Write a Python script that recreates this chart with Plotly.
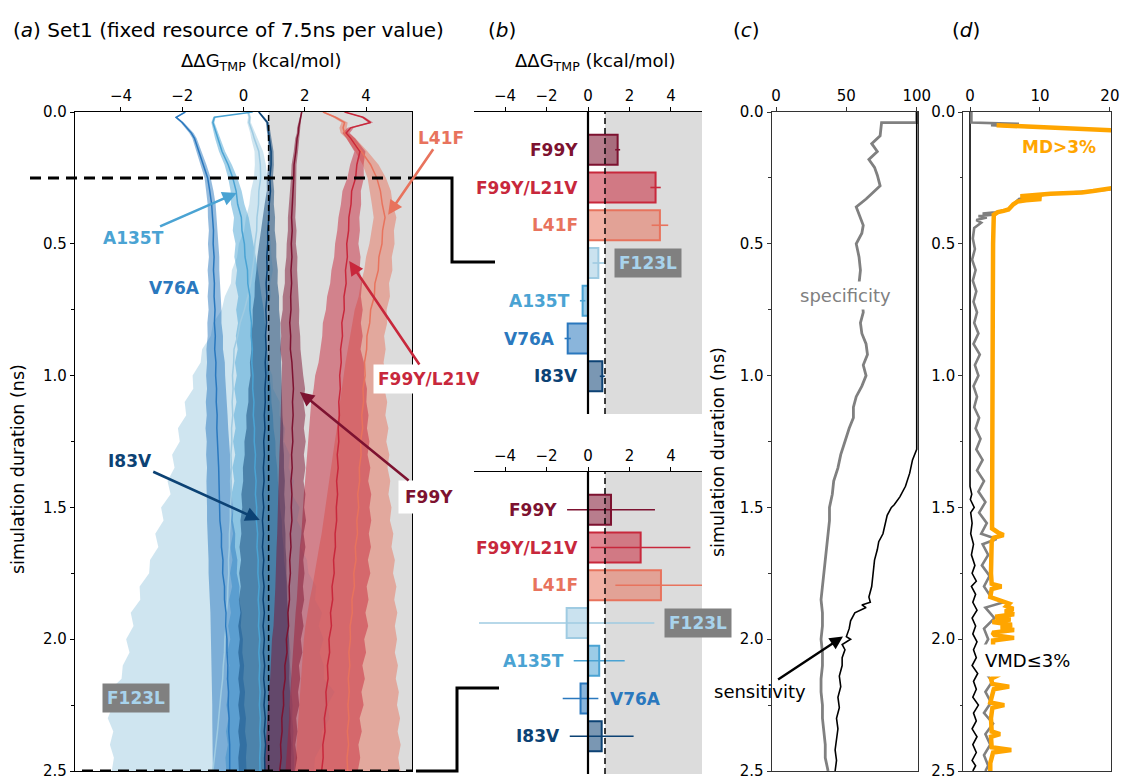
import plotly.graph_objects as go

W, H = 1122, 778
FONT = "DejaVu Sans, Liberation Sans, Arial, sans-serif"

# ---------------- panel (a) data: running estimate vs simulation duration ----------------
T = [0, 0.02, 0.04, 0.06, 0.08, 0.1, 0.15, 0.2, 0.25, 0.3,
     0.35, 0.4, 0.45, 0.5, 0.55, 0.6, 0.65, 0.7, 0.75, 0.8,
     0.85, 0.9, 0.95, 1.0, 1.05, 1.1, 1.15, 1.2, 1.25, 1.3,
     1.35, 1.4, 1.45, 1.5, 1.55, 1.6, 1.65, 1.7, 1.75, 1.8,
     1.85, 1.9, 1.95, 2.0, 2.05, 2.1, 2.15, 2.2, 2.25, 2.3,
     2.35, 2.4, 2.45, 2.5]

F99Y_MEAN = [1.9, 1.86, 1.83, 1.8, 1.79, 1.75, 1.71, 1.65, 1.64, 1.61,
             1.6, 1.57, 1.59, 1.56, 1.58, 1.55, 1.57, 1.54, 1.55, 1.51,
             1.54, 1.53, 1.58, 1.6, 1.63, 1.6, 1.62, 1.59, 1.61, 1.57,
             1.59, 1.55, 1.58, 1.56, 1.58, 1.53, 1.55, 1.51, 1.53, 1.49,
             1.5, 1.45, 1.47, 1.4, 1.42, 1.35, 1.36, 1.3, 1.31, 1.25,
             1.26, 1.21, 1.23, 1.18]
F99Y_HW = [0.02, 0.03, 0.04, 0.05, 0.05, 0.06, 0.07, 0.08, 0.09, 0.1,
           0.11, 0.12, 0.14, 0.15, 0.18, 0.2, 0.22, 0.26, 0.27, 0.3,
           0.31, 0.33, 0.32, 0.35, 0.38, 0.36, 0.4, 0.38, 0.42, 0.4,
           0.43, 0.41, 0.44, 0.42, 0.46, 0.43, 0.47, 0.44, 0.46, 0.45,
           0.48, 0.45, 0.49, 0.47, 0.5, 0.46, 0.49, 0.48, 0.51, 0.47,
           0.5, 0.48, 0.52, 0.5]

F99Y_L21V_MEAN = [3.3, 3.9, 4.15, 3.5, 3.35, 3.5, 3.8, 3.7, 3.66, 3.53,
                  3.51, 3.44, 3.43, 3.37, 3.39, 3.33, 3.35, 3.28, 3.29, 3.21,
                  3.23, 3.17, 3.19, 3.14, 3.16, 3.11, 3.13, 3.09, 3.11, 3.06,
                  3.09, 3.04, 3.07, 3.03, 3.04, 2.99, 3.0, 2.94, 2.96, 2.89,
                  2.91, 2.84, 2.87, 2.79, 2.81, 2.74, 2.76, 2.69, 2.71, 2.64,
                  2.66, 2.59, 2.6, 2.55]
F99Y_L21V_HW = [0.04, 0.06, 0.08, 0.1, 0.12, 0.14, 0.18, 0.22, 0.27, 0.3,
                0.33, 0.34, 0.37, 0.38, 0.43, 0.46, 0.52, 0.55, 0.6, 0.62,
                0.66, 0.65, 0.74, 0.8, 0.87, 0.9, 0.95, 0.94, 1.0, 0.99,
                1.05, 1.03, 1.1, 1.08, 1.13, 1.1, 1.16, 1.12, 1.18, 1.13,
                1.17, 1.14, 1.2, 1.15, 1.19, 1.14, 1.2, 1.16, 1.21, 1.15,
                1.2, 1.16, 1.21, 1.18]

L41F_MEAN = [2.6, 3.0, 3.3, 3.25, 3.3, 3.5, 3.85, 4.15, 4.35, 4.47,
             4.53, 4.62, 4.54, 4.52, 4.42, 4.4, 4.29, 4.27, 4.15, 4.12,
             4.03, 4.02, 3.95, 3.97, 3.9, 3.92, 3.86, 3.89, 3.82, 3.84,
             3.78, 3.79, 3.73, 3.76, 3.7, 3.72, 3.65, 3.67, 3.6, 3.62,
             3.54, 3.55, 3.48, 3.49, 3.44, 3.47, 3.42, 3.45, 3.41, 3.44,
             3.39, 3.43, 3.38, 3.4]
L41F_HW = [0.05, 0.08, 0.1, 0.12, 0.13, 0.15, 0.2, 0.26, 0.3, 0.34,
           0.34, 0.37, 0.37, 0.41, 0.42, 0.46, 0.46, 0.51, 0.52, 0.57,
           0.56, 0.62, 0.62, 0.7, 0.7, 0.77, 0.77, 0.84, 0.84, 0.92,
           0.92, 1.0, 1.0, 1.07, 1.08, 1.17, 1.18, 1.27, 1.28, 1.37,
           1.38, 1.47, 1.46, 1.52, 1.5, 1.57, 1.55, 1.62, 1.6, 1.67,
           1.64, 1.7, 1.67, 1.72]

F123L_MEAN = [0.15, 0.2, 0.18, 0.25, 0.3, 0.35, 0.5, 0.55, 0.56, 0.5,
              0.49, 0.44, 0.43, 0.37, 0.35, 0.29, 0.23, 0.14, 0.03, -0.11,
              -0.19, -0.31, -0.32, -0.36, -0.34, -0.37, -0.35, -0.39, -0.38, -0.41,
              -0.39, -0.42, -0.4, -0.43, -0.43, -0.46, -0.46, -0.49, -0.48, -0.51,
              -0.52, -0.56, -0.57, -0.61, -0.62, -0.66, -0.68, -0.73, -0.76, -0.81,
              -0.85, -0.9, -0.95, -1.0]
F123L_HW = [0.04, 0.05, 0.06, 0.07, 0.08, 0.1, 0.14, 0.18, 0.22, 0.26,
            0.3, 0.36, 0.41, 0.52, 0.56, 0.67, 0.64, 0.75, 0.74, 0.88,
            0.88, 1.04, 1.08, 1.3, 1.3, 1.55, 1.52, 1.75, 1.7, 1.92,
            1.86, 2.06, 1.98, 2.26, 2.18, 2.42, 2.32, 2.56, 2.6, 2.88,
            2.85, 3.12, 3.02, 3.22, 3.1, 3.28, 3.3, 3.7, 3.5, 3.62,
            3.4, 3.46, 3.28, 3.3]

A135T_MEAN = [0.3, -0.95, -1.0, -0.95, -0.9, -0.85, -0.7, -0.5, -0.35, -0.24,
              -0.19, -0.07, -0.05, 0.03, 0.05, 0.13, 0.14, 0.21, 0.21, 0.26,
              0.25, 0.29, 0.27, 0.31, 0.3, 0.34, 0.32, 0.36, 0.35, 0.39,
              0.37, 0.41, 0.39, 0.43, 0.42, 0.46, 0.44, 0.48, 0.47, 0.51,
              0.48, 0.51, 0.49, 0.53, 0.5, 0.53, 0.51, 0.54, 0.52, 0.55,
              0.53, 0.55, 0.53, 0.54]
A135T_HW = [0.03, 0.04, 0.05, 0.06, 0.07, 0.08, 0.1, 0.12, 0.15, 0.18,
            0.22, 0.24, 0.3, 0.29, 0.35, 0.34, 0.4, 0.38, 0.45, 0.44,
            0.5, 0.48, 0.55, 0.53, 0.6, 0.57, 0.64, 0.62, 0.69, 0.66,
            0.73, 0.71, 0.78, 0.76, 0.83, 0.8, 0.87, 0.84, 0.91, 0.88,
            0.95, 0.92, 0.99, 0.96, 1.03, 0.99, 1.06, 1.02, 1.08, 1.04,
            1.1, 1.06, 1.12, 1.1]

V76A_MEAN = [-1.9, -2.2, -2.0, -1.85, -1.7, -1.6, -1.45, -1.3, -1.17, -1.1,
             -1.04, -1.01, -0.98, -0.99, -0.96, -0.98, -0.95, -0.96, -0.93, -0.95,
             -0.92, -0.94, -0.9, -0.91, -0.88, -0.89, -0.86, -0.87, -0.84, -0.83,
             -0.81, -0.8, -0.79, -0.76, -0.77, -0.72, -0.72, -0.67, -0.68, -0.62,
             -0.62, -0.57, -0.58, -0.54, -0.54, -0.51, -0.52, -0.49, -0.5, -0.47,
             -0.48, -0.45, -0.46, -0.45]
V76A_HW = [0.03, 0.04, 0.05, 0.06, 0.07, 0.07, 0.08, 0.09, 0.1, 0.12,
           0.13, 0.15, 0.15, 0.17, 0.17, 0.19, 0.19, 0.21, 0.21, 0.23,
           0.25, 0.27, 0.29, 0.31, 0.31, 0.34, 0.34, 0.37, 0.36, 0.39,
           0.38, 0.41, 0.4, 0.43, 0.42, 0.45, 0.44, 0.47, 0.46, 0.49,
           0.48, 0.51, 0.49, 0.52, 0.5, 0.53, 0.51, 0.54, 0.52, 0.55,
           0.53, 0.56, 0.54, 0.55]

I83V_MEAN = [0.5, 0.65, 0.78, 0.8, 0.82, 0.85, 0.9, 0.9, 0.86, 0.88,
             0.84, 0.83, 0.79, 0.79, 0.76, 0.77, 0.74, 0.76, 0.73, 0.75,
             0.72, 0.74, 0.71, 0.73, 0.7, 0.71, 0.68, 0.7, 0.66, 0.68,
             0.65, 0.67, 0.63, 0.66, 0.62, 0.65, 0.62, 0.66, 0.63, 0.67,
             0.64, 0.68, 0.64, 0.68, 0.65, 0.69, 0.66, 0.7, 0.67, 0.71,
             0.68, 0.72, 0.69, 0.7]
I83V_HW = [0.03, 0.04, 0.05, 0.05, 0.06, 0.06, 0.08, 0.09, 0.1, 0.12,
           0.15, 0.2, 0.23, 0.28, 0.31, 0.35, 0.37, 0.4, 0.43, 0.45,
           0.47, 0.48, 0.5, 0.5, 0.54, 0.55, 0.59, 0.6, 0.63, 0.64,
           0.67, 0.68, 0.7, 0.7, 0.72, 0.72, 0.75, 0.74, 0.77, 0.76,
           0.79, 0.78, 0.81, 0.8, 0.82, 0.81, 0.83, 0.82, 0.84, 0.83,
           0.85, 0.84, 0.86, 0.85]

# ---------------- panel (b) data ----------------
CATEGORIES = ["F99Y", "F99Y/L21V", "L41F", "F123L", "A135T", "V76A", "I83V"]
COLORS = ["#7d1230", "#c8283c", "#e8735d", "#9fcbe2", "#4aa3d3", "#2a78be", "#0c4274"]
TOP_VAL = [1.43, 3.26, 3.47, 0.5, -0.26, -0.98, 0.69]     # at 0.25 ns
TOP_ERR = [0.12, 0.25, 0.4, 0.28, 0.13, 0.15, 0.12]
BOT_VAL = [1.11, 2.54, 3.52, -1.03, 0.54, -0.36, 0.66]    # at 2.5 ns
BOT_ERR = [2.12, 2.4, 2.2, 4.23, 1.23, 0.86, 1.54]

THRESH = 0.82
SNAP_TOP = 0.25
SNAP_BOT = 2.5

# ---------------- panel (c) data ----------------
SPEC_POINTS = [(0, 100), (0.04, 100), (0.04, 75), (0.09, 74), (0.12, 68), (0.15, 72), (0.18, 66), (0.21, 70),
               (0.24, 72), (0.28, 74), (0.31, 68), (0.33, 64), (0.36, 57), (0.4, 60), (0.43, 62), (0.46, 61),
               (0.5, 57), (0.55, 59), (0.6, 60), (0.65, 59), (0.7, 61), (0.76, 62), (0.8, 60), (0.84, 61),
               (0.88, 64), (0.92, 65), (0.96, 62), (1.0, 64), (1.04, 61), (1.08, 57), (1.12, 55), (1.16, 55),
               (1.2, 52), (1.25, 49), (1.3, 46), (1.35, 44), (1.4, 41), (1.45, 40), (1.5, 38), (1.55, 38),
               (1.6, 37), (1.65, 36), (1.7, 35), (1.75, 34), (1.8, 33), (1.85, 32), (1.9, 33), (1.95, 33),
               (2.0, 32), (2.05, 33), (2.1, 33), (2.15, 32), (2.2, 32), (2.25, 33), (2.3, 33), (2.35, 34),
               (2.4, 35), (2.45, 35), (2.5, 37)]
SENS_POINTS = [(0, 100), (1.28, 100), (1.32, 97), (1.37, 95), (1.42, 92), (1.46, 88), (1.49, 84), (1.5, 82),
               (1.53, 79), (1.57, 77), (1.6, 76), (1.63, 73), (1.66, 72), (1.7, 70), (1.75, 69), (1.8, 68),
               (1.84, 66), (1.86, 67), (1.87, 61), (1.88, 64), (1.9, 56), (1.93, 53), (1.96, 52), (1.99, 50),
               (2.0, 53), (2.02, 47), (2.04, 49), (2.07, 47), (2.1, 47), (2.14, 45), (2.18, 46), (2.22, 44),
               (2.26, 45), (2.3, 43), (2.34, 44), (2.38, 43), (2.42, 42), (2.46, 43), (2.5, 42)]

# ---------------- panel (d) data ----------------
MD_POINTS = [(0.05, 3.8), (0.06, 12.0), (0.075, 25.0), (0.28, 25.0), (0.29, 20.0), (0.3, 17.6), (0.305, 16.0),
             (0.31, 11.5), (0.315, 9.0), (0.32, 7.2), (0.325, 9.5), (0.33, 10.2), (0.335, 8.0), (0.34, 6.8),
             (0.35, 6.2), (0.36, 5.9), (0.37, 5.5), (0.375, 4.8), (0.38, 4.0), (0.39, 3.4), (0.5, 3.3), (0.8, 3.25),
             (1.2, 3.2), (1.58, 3.15), (1.595, 4.0), (1.605, 4.8), (1.615, 3.4), (1.63, 3.1), (1.75, 3.0),
             (1.79, 3.1), (1.8, 4.5), (1.81, 3.1), (1.84, 2.9), (1.855, 4.8), (1.865, 5.6), (1.875, 5.2),
             (1.885, 6.2), (1.895, 5.0), (1.905, 6.3), (1.915, 3.6), (1.925, 5.8), (1.935, 3.2), (1.945, 6.0),
             (1.955, 4.4), (1.965, 6.3), (1.975, 3.2), (1.985, 3.5), (1.995, 6.3), (2.005, 3.3), (2.13, 3.3),
             (2.14, 3.8), (2.15, 3.0), (2.17, 3.2), (2.18, 5.6), (2.19, 3.4), (2.22, 3.1), (2.24, 2.9), (2.25, 4.9),
             (2.26, 3.2), (2.3, 3.0), (2.35, 3.1), (2.36, 4.3), (2.37, 3.0), (2.41, 3.1), (2.42, 5.9), (2.43, 3.3),
             (2.47, 2.9), (2.5, 2.9)]
ALLMD_POINTS = [(0.0, 0.2), (0.04, 0.2), (0.045, 7.0), (0.05, 3.0), (0.055, 6.5), (0.06, 12.0), (0.075, 25.0),
                (0.28, 25.0), (0.3, 17.6), (0.31, 11.5), (0.33, 7.0), (0.37, 5.5), (0.38, 3.6), (0.385, 1.8),
                (0.39, 3.2), (0.395, 1.2), (0.4, 2.4), (0.41, 0.9), (0.42, 1.6), (0.44, 0.6), (0.48, 0.4),
                (0.52, 0.7), (0.56, 0.3), (0.6, 0.8), (0.64, 0.4), (0.68, 0.9), (0.72, 0.5), (0.76, 1.0),
                (0.8, 0.6), (0.84, 1.2), (0.88, 0.5), (0.92, 1.4), (0.96, 0.7), (1.0, 1.2), (1.04, 0.5),
                (1.08, 1.0), (1.12, 0.6), (1.16, 1.3), (1.2, 0.8), (1.24, 1.5), (1.28, 0.9), (1.32, 1.8),
                (1.36, 1.0), (1.4, 2.0), (1.44, 1.2), (1.48, 2.2), (1.52, 1.3), (1.56, 2.4), (1.6, 1.6),
                (1.62, 3.8), (1.64, 1.8), (1.68, 2.6), (1.72, 1.7), (1.76, 2.8), (1.8, 2.0), (1.84, 3.0),
                (1.86, 4.8), (1.88, 2.2), (1.92, 3.5), (1.96, 2.0), (2.0, 2.6), (2.04, 1.8), (2.08, 2.8),
                (2.12, 2.0), (2.16, 3.2), (2.2, 2.2), (2.24, 3.0), (2.28, 2.0), (2.32, 3.3), (2.36, 2.2),
                (2.4, 2.9), (2.44, 2.0), (2.48, 2.6), (2.5, 2.2)]
VMD_POINTS = [(0.0, 0.0), (1.42, 0.0), (1.45, 0.25), (1.47, 0.05), (1.5, 0.6), (1.52, 0.1), (1.56, 0.3),
              (1.6, 0.1), (1.64, 0.5), (1.68, 0.2), (1.72, 0.7), (1.75, 0.3), (1.78, 0.9), (1.8, 0.2),
              (1.83, 0.8), (1.86, 0.4), (1.89, 1.0), (1.92, 0.3), (1.95, 0.8), (1.98, 0.4), (2.01, 1.0),
              (2.04, 0.5), (2.07, 0.9), (2.1, 0.3), (2.13, 1.1), (2.16, 0.5), (2.19, 0.9), (2.22, 0.4),
              (2.25, 1.2), (2.28, 0.5), (2.31, 0.9), (2.34, 0.3), (2.37, 1.0), (2.4, 0.4), (2.43, 0.9),
              (2.46, 0.3), (2.48, 0.8), (2.5, 0.4)]

SERIES_A = {
    "F99Y": (F99Y_MEAN, F99Y_HW),
    "F99Y/L21V": (F99Y_L21V_MEAN, F99Y_L21V_HW),
    "L41F": (L41F_MEAN, L41F_HW),
    "F123L": (F123L_MEAN, F123L_HW),
    "A135T": (A135T_MEAN, A135T_HW),
    "V76A": (V76A_MEAN, V76A_HW),
    "I83V": (I83V_MEAN, I83V_HW),
}
DRAW_ORDER_A = ["F123L", "A135T", "V76A", "I83V", "L41F", "F99Y/L21V", "F99Y"]
CMAP = dict(zip(CATEGORIES, COLORS))


def px(x):
    return x / W


def py(y):
    return 1 - y / H


def rgba(h, a):
    return "rgba(%d,%d,%d,%s)" % (int(h[1:3], 16), int(h[3:5], 16), int(h[5:7], 16), a)


fig = go.Figure()

# ---- panel (a) bands then lines ----
for name in DRAW_ORDER_A:
    m, w = SERIES_A[name]
    lo = [a - b for a, b in zip(m, w)]
    hi = [a + b for a, b in zip(m, w)]
    fig.add_trace(go.Scatter(x=lo + hi[::-1], y=T + T[::-1], fill="toself", mode="lines",
                             fillcolor=rgba(CMAP[name], 0.5), line=dict(width=0),
                             xaxis="x", yaxis="y", hoverinfo="skip", showlegend=False))
for name in DRAW_ORDER_A:
    m, w = SERIES_A[name]
    fig.add_trace(go.Scatter(x=m, y=T, mode="lines", line=dict(color=CMAP[name], width=1.5),
                             xaxis="x", yaxis="y", hoverinfo="skip", showlegend=False))

# ---- panel (b) bars ----
for vals, errs, xa, ya in [(TOP_VAL, TOP_ERR, "x2", "y2"), (BOT_VAL, BOT_ERR, "x3", "y3")]:
    for i, name in enumerate(CATEGORIES):
        c = COLORS[i]
        fig.add_trace(go.Bar(x=[vals[i]], y=[name], orientation="h", width=0.8,
                             marker=dict(color=rgba(c, 0.55), line=dict(color=c, width=2)),
                             error_x=dict(type="data", array=[errs[i]], color=c, thickness=1.6, width=0),
                             xaxis=xa, yaxis=ya, hoverinfo="skip", showlegend=False))

# ---- panel (c) ----
fig.add_trace(go.Scatter(x=[p[1] for p in SPEC_POINTS], y=[p[0] for p in SPEC_POINTS], mode="lines",
                         line=dict(color="#808080", width=2.8), xaxis="x4", yaxis="y4",
                         hoverinfo="skip", showlegend=False))
fig.add_trace(go.Scatter(x=[p[1] for p in SENS_POINTS], y=[p[0] for p in SENS_POINTS], mode="lines",
                         line=dict(color="black", width=1.6), xaxis="x4", yaxis="y4",
                         hoverinfo="skip", showlegend=False))

# ---- panel (d) ----
fig.add_trace(go.Scatter(x=[p[1] for p in VMD_POINTS], y=[p[0] for p in VMD_POINTS], mode="lines",
                         line=dict(color="black", width=1.6), xaxis="x5", yaxis="y5",
                         hoverinfo="skip", showlegend=False))
fig.add_trace(go.Scatter(x=[p[1] for p in ALLMD_POINTS], y=[p[0] for p in ALLMD_POINTS], mode="lines",
                         line=dict(color="#808080", width=2.6), xaxis="x5", yaxis="y5",
                         hoverinfo="skip", showlegend=False))
fig.add_trace(go.Scatter(x=[p[1] for p in MD_POINTS], y=[p[0] for p in MD_POINTS], mode="lines",
                         line=dict(color="#FFA500", width=4.5), xaxis="x5", yaxis="y5",
                         hoverinfo="skip", showlegend=False))

# ---- axes ----
tickfont = dict(family=FONT, size=15, color="black")
YDOM = [py(771), py(112)]


def xax(dom, anchor, rng, tv, mirror=True, lc="black"):
    return dict(domain=dom, anchor=anchor, side="top", range=rng, tickvals=tv, ticks="outside",
                ticklen=4, tickwidth=1, tickcolor=lc, showline=True, linecolor=lc, linewidth=1.2,
                mirror=mirror, showgrid=False, zeroline=False, tickfont=tickfont, fixedrange=True)


def yax(anchor, lc="black"):
    return dict(domain=YDOM, anchor=anchor, range=[2.5, 0], tick0=0, dtick=0.5, tickformat=".1f",
                ticks="outside", ticklen=4, tickwidth=1, tickcolor=lc, showline=True, linecolor=lc,
                linewidth=1.2, mirror=True, showgrid=False, zeroline=False, tickfont=tickfont,
                ticklabeloverflow="allow",
                minor=dict(dtick=0.25, ticks="outside", ticklen=2.5, tickcolor=lc, showgrid=False))


def ycat(dom, anchor):
    return dict(domain=dom, anchor=anchor, type="category", categoryorder="array",
                categoryarray=CATEGORIES, range=[7, -1], visible=False, fixedrange=True)


fig.update_layout(
    xaxis=xax([px(75), px(412)], "y", [-5.5, 5.5], [-4, -2, 0, 2, 4]),
    yaxis=yax("x"),
    xaxis2=xax([px(474), px(702)], "y2", [-5.5, 5.5], [-4, -2, 0, 2, 4], mirror=False),
    yaxis2=ycat([py(414), py(112)], "x2"),
    xaxis3=xax([px(474), px(702)], "y3", [-5.5, 5.5], [-4, -2, 0, 2, 4], mirror=False),
    yaxis3=ycat([py(774), py(472)], "x3"),
    xaxis4=xax([px(771.7), px(918)], "y4", [-3.06, 100.9], [0, 50, 100], lc="#333333"),
    yaxis4=yax("x4", lc="#333333"),
    xaxis5=xax([px(963.3), px(1111)], "y5", [-0.96, 20.16], [0, 10, 20], lc="#333333"),
    yaxis5=yax("x5", lc="#333333"),
)

# ---- shapes ----
shapes = []
GRAY = "#dcdcdc"
for xr, yr in [("x", "y domain"), ("x2", "y2 domain"), ("x3", "y3 domain")]:
    shapes.append(dict(type="rect", xref=xr, yref=yr, x0=THRESH, x1=5.5, y0=0, y1=1,
                       fillcolor=GRAY, line=dict(width=0), layer="below"))
    shapes.append(dict(type="line", xref=xr, yref=yr, x0=THRESH, x1=THRESH, y0=0, y1=1,
                       line=dict(color="black", width=1.5, dash="6px,4px"), layer="above"))
for xr, yr in [("x2", "y2 domain"), ("x3", "y3 domain")]:
    shapes.append(dict(type="line", xref=xr, yref=yr, x0=0, x1=0, y0=0, y1=1,
                       line=dict(color="black", width=2.2), layer="above"))
shapes.append(dict(type="line", xref="paper", yref="y", x0=px(30), x1=px(412), y0=SNAP_TOP, y1=SNAP_TOP,
                   line=dict(color="black", width=3, dash="11px,7px"), layer="above"))
shapes.append(dict(type="line", xref="paper", yref="y", x0=px(82), x1=px(412), y0=SNAP_BOT, y1=SNAP_BOT,
                   line=dict(color="black", width=3, dash="11px,7px"), layer="above"))
shapes.append(dict(type="path", xref="paper", yref="paper",
                   path="M %f %f L %f %f L %f %f L %f %f" % (px(412), py(178), px(452), py(178),
                                                             px(452), py(262), px(495), py(262)),
                   line=dict(color="black", width=3)))
shapes.append(dict(type="path", xref="paper", yref="paper",
                   path="M %f %f L %f %f L %f %f L %f %f" % (px(416), py(771), px(457), py(771),
                                                             px(457), py(688), px(499), py(688)),
                   line=dict(color="black", width=3)))

# ---- annotations ----
anns = []


def ptxt(text, x, y, size=17, color="black", xanchor="center", **kw):
    d = dict(text=text, x=px(x), y=py(y), xref="paper", yref="paper", showarrow=False,
             xanchor=xanchor, yanchor="middle", font=dict(family=FONT, size=size, color=color))
    d.update(kw)
    anns.append(d)


def arrow_label(text, x, y, ax, ay, color, size=17, xr="x", yr="y", **kw):
    d = dict(text=text, x=x, y=y, xref=xr, yref=yr, ax=ax, ay=ay, showarrow=True,
             arrowhead=2, arrowsize=1.1, arrowwidth=2.6, arrowcolor=color, standoff=0,
             font=dict(family=FONT, size=size, color=color))
    d.update(kw)
    anns.append(d)


ptxt("(<i>a</i>) Set1 (fixed resource of 7.5ns per value)", 11, 30, size=20, xanchor="left")
ptxt("(<i>b</i>)", 502, 30, size=20)
ptxt("(<i>c</i>)", 746, 30, size=20)
ptxt("(<i>d</i>)", 966, 30, size=20)
ptxt("ΔΔG<sub>TMP</sub> (kcal/mol)", 261, 62, size=18)
ptxt("ΔΔG<sub>TMP</sub> (kcal/mol)", 595, 62, size=18)
ptxt("simulation duration (ns)", 18, 469, size=17.5, textangle=-90)
ptxt("simulation duration (ns)", 718, 452, size=17.5, textangle=-90)

# panel (a) labels (with arrows pointing at the curves)
arrow_label("<b>L41F</b>", 4.72, 0.39, 53, -77, CMAP["L41F"])
arrow_label("<b>A135T</b>", -0.22, 0.307, -103, 45, CMAP["A135T"])
arrow_label("<b>F99Y/L21V</b>", 3.45, 0.565, 80, 118, CMAP["F99Y/L21V"], bgcolor="white", borderpad=4)
arrow_label("<b>F99Y</b>", 1.84, 1.062, 129, 105, CMAP["F99Y"], bgcolor="white", borderpad=6)
arrow_label("<b>I83V</b>", 0.53, 1.548, -130, -59, CMAP["I83V"])
ptxt("<b>V76A</b>", 174, 288, color=CMAP["V76A"])
ptxt("<b>F123L</b>", 136, 698, color="#a8d3ec", bgcolor="#808080", borderpad=4)

# panel (b) category labels
RIGHT_SIDE = {"x2": {"F123L"}, "x3": {"F123L", "V76A"}}
for vals, errs, xa, ya in [(TOP_VAL, TOP_ERR, "x2", "y2"), (BOT_VAL, BOT_ERR, "x3", "y3")]:
    for i, name in enumerate(CATEGORIES):
        boxed = name == "F123L"
        d = dict(text="<b>%s</b>" % name, xref=xa, yref=ya, y=name, showarrow=False, yanchor="middle",
                 font=dict(family=FONT, size=17, color="#a8d3ec" if boxed else COLORS[i]))
        if name in RIGHT_SIDE[xa]:
            d.update(x=max(0, vals[i] + errs[i]), xanchor="left", xshift=10)
        else:
            d.update(x=min(0, vals[i] - errs[i]), xanchor="right", xshift=-8)
        if boxed:
            d.update(bgcolor="#808080", borderpad=4)
        anns.append(d)

# panel (c)
ptxt("specificity", 845, 295, size=18, color="#808080", bgcolor="white", borderpad=3)
arrow_label("sensitivity", 47.6, 1.99, -83, 55, "black", size=18, xr="x4", yr="y4",
            arrowwidth=2.4)

# panel (d)
ptxt("<b>MD&gt;3%</b>", 1059, 147, color="#FFA500")
ptxt("VMD≤3%", 1027, 660, size=18, bgcolor="white", borderpad=5)

fig.update_layout(
    width=W, height=H, margin=dict(l=0, r=0, t=0, b=0, pad=0),
    paper_bgcolor="white", plot_bgcolor="rgba(0,0,0,0)", template="none",
    barmode="overlay", showlegend=False, hovermode=False,
    shapes=shapes, annotations=anns, font=dict(family=FONT, size=16, color="black"),
)

fig.write_html("out.html")
